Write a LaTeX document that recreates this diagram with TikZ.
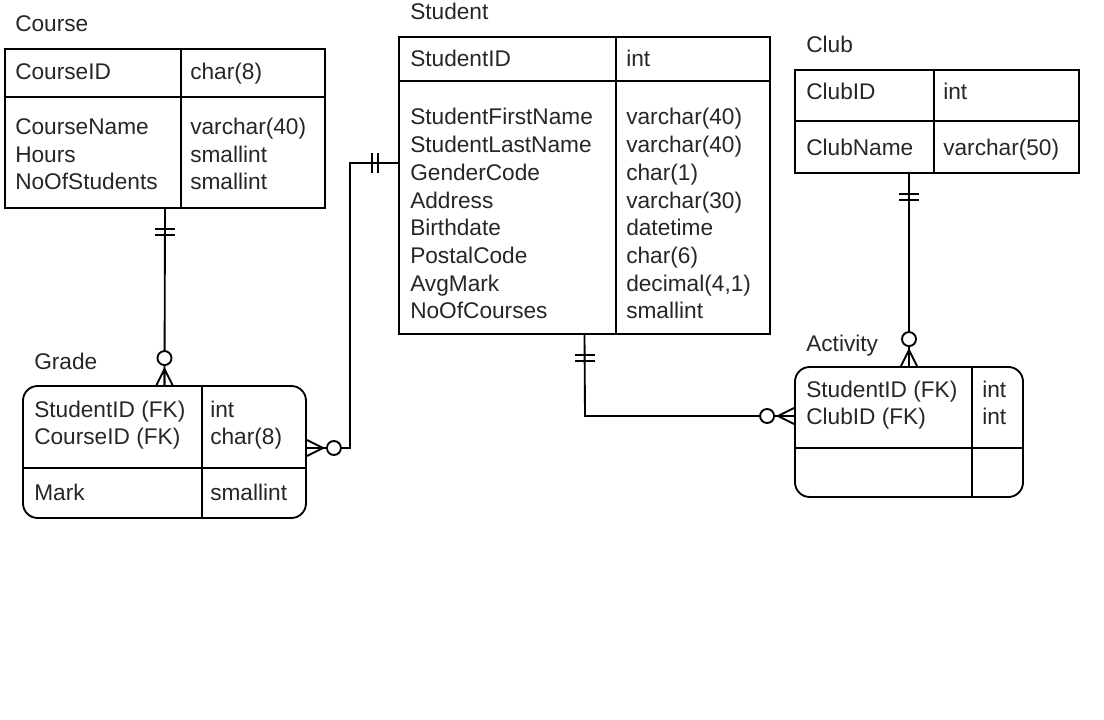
\documentclass[tikz,border=0pt]{standalone}
\usepackage{fontspec}
\setmainfont{Liberation Sans}
\usetikzlibrary{fit}
\begin{document}
\begin{tikzpicture}[x=0.75pt, y=-0.75pt]
			\tikzset{entite/.style={draw, inner sep=0pt, line width=1.4pt}, champ/.style={anchor=base west, inner sep=0pt, align=left, font=\fontsize{17}{20.8}\selectfont, text=black!85},
			titre/.style={champ}, lien/.style={line width=1.4pt},
			unseul/.pic={\draw[lien] (20,-10) -- (20,10) (26,-10) -- (26,10);},
			plusieurs/.pic={\draw[lien] (0,-8) -- (16,0) -- (0,8) (0,0) -- (16,0); \draw[lien, fill=white] (27,0) circle[radius=7];}};

			\useasboundingbox (0,0) rectangle (1104,720);

			\node[entite, fit={(5,49) (325,208)}] (course) {};
			\node[entite, fit={(23,386) (306,518)}, rounded corners=11pt] (grade) {};
			\node[entite, fit={(399,37) (770,334)}] (student) {};
			\node[entite, fit={(795,70) (1079,173)}] (club) {};
			\node[entite, fit={(795,367) (1023,497)}, rounded corners=11pt] (activity) {};

			\draw[lien] (5,97) -- (325,97) (181,49) -- (181,208);
			\draw[lien] (23,468) -- (306,468) (202,386) -- (202,518);
			\draw[lien] (399,81) -- (770,81) (616,37) -- (616,334);
			\draw[lien] (795,121) -- (1079,121) (934,70) -- (934,173);
			\draw[lien] (795,448) -- (1023,448) (972,367) -- (972,497);

			% les noeuds a plusieurs lignes sont places a la ligne de base de la derniere ligne
			\node[titre] (tco) at ( 15,  32) {Course};
			\node[champ] (co1) at ( 15,  80) {CourseID};
			\node[champ] (co2) at (190,  80) {char(8)};
			\node[champ] (co3) at ( 15, 190) {CourseName\\Hours\\NoOfStudents};
			\node[champ] (co4) at (190, 190) {varchar(40)\\smallint\\smallint};

			\node[titre] (tgr) at ( 34, 370) {Grade};
			\node[champ] (gr1) at ( 34, 445) {StudentID (FK)\\CourseID (FK)};
			\node[champ] (gr2) at (210, 445) {int\\char(8)};
			\node[champ] (gr3) at ( 34, 500) {Mark};
			\node[champ] (gr4) at (210, 500) {smallint};

			\node[titre] (tst) at (410,  20) {Student};
			\node[champ] (st1) at (410,  67) {StudentID};
			\node[champ] (st2) at (626,  67) {int};
			\node[champ] (st3) at (410, 319) {StudentFirstName\\StudentLastName\\GenderCode\\Address\\Birthdate\\PostalCode\\AvgMark\\NoOfCourses};
			\node[champ] (st4) at (626, 319) {varchar(40)\\varchar(40)\\char(1)\\varchar(30)\\datetime\\char(6)\\decimal(4,1)\\smallint};

			\node[titre] (tcl) at (806,  53) {Club};
			\node[champ] (cl1) at (806, 100) {ClubID};
			\node[champ] (cl2) at (943, 100) {int};
			\node[champ] (cl3) at (806, 156) {ClubName};
			\node[champ] (cl4) at (943, 156) {varchar(50)};

			\node[titre] (tac) at (806, 352) {Activity};
			\node[champ] (ac1) at (806, 425) {StudentID (FK)\\ClubID (FK)};
			\node[champ] (ac2) at (982, 425) {int\\int};

			\coordinate (coude1) at (350, 163);
			\coordinate (coude2) at (585, 416);

			\draw[lien] (course.south) -- (grade.north);
			\draw[lien] ([yshift=3pt]grade.east) -| (coude1) -- (coude1 -| student.west);
			\draw[lien] (student.south) -- (coude2) -- (coude2 -| activity.west);
			\draw[lien] (activity.north) -- (activity.north |- club.south);

			\pic[rotate=-90] at (course.south) {unseul};
			\pic[rotate=90] at (grade.north) {plusieurs};
			\pic[rotate=180] at (coude1 -| student.west) {unseul};
			\pic at ([yshift=3pt]grade.east) {plusieurs};
			\pic[rotate=-90] at (student.south) {unseul};
			\pic[rotate=180] at (coude2 -| activity.west) {plusieurs};
			\pic[rotate=-90] at (activity.north |- club.south) {unseul};
			\pic[rotate=90] at (activity.north) {plusieurs};

		\end{tikzpicture}
\end{document}
